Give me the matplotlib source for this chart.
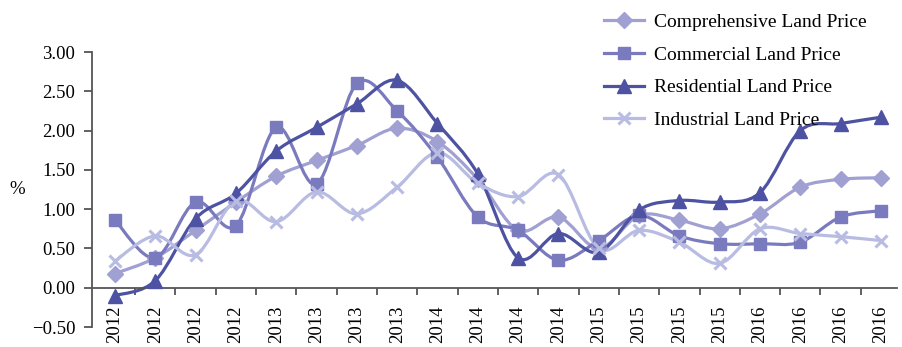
import matplotlib
matplotlib.use("Agg")
import matplotlib.pyplot as plt
import numpy as np
from matplotlib.path import Path
from matplotlib.patches import PathPatch
from matplotlib.lines import Line2D

plt.rcParams['font.family'] = ['Liberation Serif', 'DejaVu Serif']

years = ['2012'] * 4 + ['2013'] * 4 + ['2014'] * 4 + ['2015'] * 4 + ['2016'] * 4

comprehensive = [0.18, 0.38, 0.73, 1.09, 1.42, 1.62, 1.81, 2.03, 1.86, 1.38,
                 0.73, 0.90, 0.50, 0.92, 0.86, 0.75, 0.94, 1.28, 1.38, 1.40]
commercial = [0.86, 0.38, 1.09, 0.79, 2.04, 1.32, 2.60, 2.25, 1.66, 0.90,
              0.73, 0.35, 0.60, 0.92, 0.66, 0.56, 0.56, 0.58, 0.90, 0.98]
residential = [-0.10, 0.09, 0.88, 1.20, 1.74, 2.04, 2.34, 2.64, 2.09, 1.45,
               0.38, 0.69, 0.45, 0.99, 1.11, 1.09, 1.21, 2.00, 2.09, 2.17]
industrial = [0.34, 0.66, 0.42, 1.11, 0.84, 1.22, 0.94, 1.28, 1.72, 1.33,
              1.16, 1.44, 0.50, 0.73, 0.58, 0.31, 0.75, 0.69, 0.65, 0.60]

labels = ['Comprehensive Land Price', 'Commercial Land Price',
          'Residential Land Price', 'Industrial Land Price']
series = [comprehensive, commercial, residential, industrial]
colors = ['#a0a0d3', '#7a7abf', '#4d52a2', '#b9bce2']
markers = ['D', 's', '^', 'x']
msizes = [8, 9, 10, 9]

fig = plt.figure(figsize=(9.03, 3.47), dpi=100)
ax = fig.add_axes([0.1019, 0.0576, 0.8915, 0.7925])

x = np.arange(len(years))


def smooth_path(xs, ys):
    xs = np.asarray(xs, float)
    ys = np.asarray(ys, float)
    n = len(xs)
    verts = [(xs[0], ys[0])]
    codes = [Path.MOVETO]
    for i in range(n - 1):
        p0 = (xs[max(i - 1, 0)], ys[max(i - 1, 0)])
        p1 = (xs[i], ys[i])
        p2 = (xs[i + 1], ys[i + 1])
        p3 = (xs[min(i + 2, n - 1)], ys[min(i + 2, n - 1)])
        c1 = (p1[0] + (p2[0] - p0[0]) / 6, p1[1] + (p2[1] - p0[1]) / 6)
        c2 = (p2[0] - (p3[0] - p1[0]) / 6, p2[1] - (p3[1] - p1[1]) / 6)
        verts += [c1, c2, p2]
        codes += [Path.CURVE4] * 3
    return Path(verts, codes)


handles = []
for ys, c, m, ms, lab in zip(series, colors, markers, msizes, labels):
    patch = PathPatch(smooth_path(x, ys), facecolor='none', edgecolor=c,
                      lw=2.3, zorder=2)
    ax.add_patch(patch)
    if m == 'x':
        ax.plot(x, ys, linestyle='none', marker=m, ms=ms, mew=2.2, color=c,
                zorder=3)
        h = Line2D([], [], color=c, lw=2.3, marker=m, ms=ms, mew=2.2)
    else:
        ax.plot(x, ys, linestyle='none', marker=m, ms=ms, mfc=c, mec=c,
                color=c, zorder=3)
        h = Line2D([], [], color=c, lw=2.3, marker=m, ms=ms, mfc=c, mec=c)
    handles.append(h)

ax.set_xlim(-0.57, 19.4)
ax.set_ylim(-0.5, 3.0)

ax.spines['top'].set_visible(False)
ax.spines['right'].set_visible(False)
ax.spines['bottom'].set_position(('data', 0))
for s in ['left', 'bottom']:
    ax.spines[s].set_color('#555555')
    ax.spines[s].set_linewidth(1.3)

yt = np.arange(-0.5, 3.01, 0.5)
ax.set_yticks(yt)
ax.set_yticklabels([f'{v:.2f}'.replace('-', '\u2212') for v in yt])
ax.tick_params(axis='y', direction='out', length=6, width=1.3, color='#555555',
               labelsize=13.5, pad=6)

ax.set_xticks(x)
ax.set_xticklabels(years, rotation=90, fontsize=13.5)
ax.tick_params(axis='x', which='major', length=0, pad=13)
ax.set_xticks(np.arange(0.5, 19, 1), minor=True)
ax.tick_params(axis='x', which='minor', direction='out', length=5, width=1.3,
               color='#555555')

ax.set_ylabel('%', rotation=0, fontsize=13.5, va='center', ha='center')
ax.yaxis.set_label_coords(-0.093, 0.5)

leg = fig.legend(handles, labels, loc='upper left',
                 bbox_to_anchor=(0.669, 0.962), frameon=False,
                 fontsize=14, handlelength=2.05, handletextpad=0.5,
                 labelspacing=0.78, borderpad=0, borderaxespad=0)

fig.savefig('out.png', dpi=100)
